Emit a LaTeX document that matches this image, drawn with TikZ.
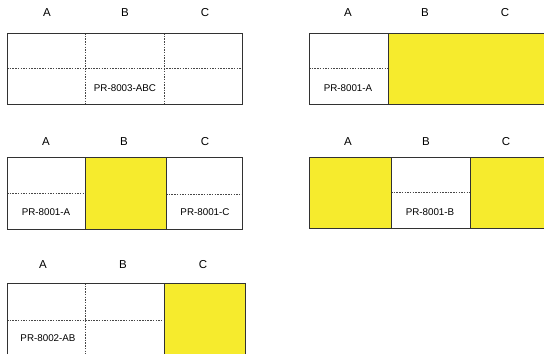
\documentclass[tikz,border=0pt]{standalone}
\usepackage{fontspec}
\setmainfont{Liberation Sans}
\definecolor{ylw}{RGB}{246,235,45}
\definecolor{bord}{RGB}{50,50,50}
\begin{document}
\begin{tikzpicture}[x=1pt,y=-1pt,
  hdr/.style={font=\fontsize{11.5}{12}\selectfont,inner sep=0pt},
  code/.style={font=\fontsize{9.8}{11}\selectfont,inner sep=0pt},
  frame/.style={draw=bord,line width=0.9pt},
  fillc/.style={fill=ylw},
  dot/.style={draw=bord!90,line width=0.8pt,dash pattern=on 1.5pt off 1.2pt}]
\useasboundingbox (0,0) rectangle (544,354);
% ---------- Panel 1 ----------
\node[hdr] (p1a) at (47,13) {A};
\node[hdr] (p1b) at (125,13) {B};
\node[hdr] (p1c) at (205,13) {C};
\draw[dot] (85,33) -- (85,104);
\draw[dot] (164,33) -- (164,104);
\draw[dot] (7,68) -- (242,68);
\draw[frame] (7,33) rectangle (242,104);
\node[code] (p1t) at (125,88) {PR-8003-ABC};
% ---------- Panel 2 ----------
\node[hdr] (p2a) at (348,13) {A};
\node[hdr] (p2b) at (425,13) {B};
\node[hdr] (p2c) at (505,13) {C};
\fill[fillc] (388,33) rectangle (544,104);
\draw[dot] (309,68) -- (388,68);
\draw[frame] (544,33) -- (309,33) -- (309,104) -- (544,104);
\draw[frame] (388,33) -- (388,104);
\node[code] (p2t) at (348,88) {PR-8001-A};
% ---------- Panel 3 ----------
\node[hdr] (p3a) at (46,142) {A};
\node[hdr] (p3b) at (124,142) {B};
\node[hdr] (p3c) at (205,142) {C};
\fill[fillc] (85,157) rectangle (166,229);
\draw[dot] (7,193) -- (85,193);
\draw[dot] (166,194) -- (242,194);
\draw[frame] (7,157) rectangle (242,229);
\draw[frame] (85,157) -- (85,229);
\draw[frame] (166,157) -- (166,229);
\node[code] (p3t) at (46,212) {PR-8001-A};
\node[code] (p3u) at (205,212) {PR-8001-C};
% ---------- Panel 4 ----------
\node[hdr] (p4a) at (348,142) {A};
\node[hdr] (p4b) at (426,142) {B};
\node[hdr] (p4c) at (506,142) {C};
\fill[fillc] (309,157) rectangle (391,228);
\fill[fillc] (470,157) rectangle (544,228);
\draw[dot] (391,192) -- (470,192);
\draw[frame] (544,157) -- (309,157) -- (309,228) -- (544,228);
\draw[frame] (391,157) -- (391,228);
\draw[frame] (470,157) -- (470,228);
\node[code] (p4t) at (430,212) {PR-8001-B};
% ---------- Panel 5 ----------
\node[hdr] (p5a) at (43,265) {A};
\node[hdr] (p5b) at (123,265) {B};
\node[hdr] (p5c) at (203,265) {C};
\fill[fillc] (164,283) rectangle (245,354);
\draw[dot] (85,283) -- (85,354);
\draw[dot] (7,320) -- (164,320);
\draw[frame] (7,354) -- (7,283) -- (245,283) -- (245,354);
\draw[frame] (164,283) -- (164,354);
\node[code] (p5t) at (48,338) {PR-8002-AB};
\end{tikzpicture}
\end{document}
